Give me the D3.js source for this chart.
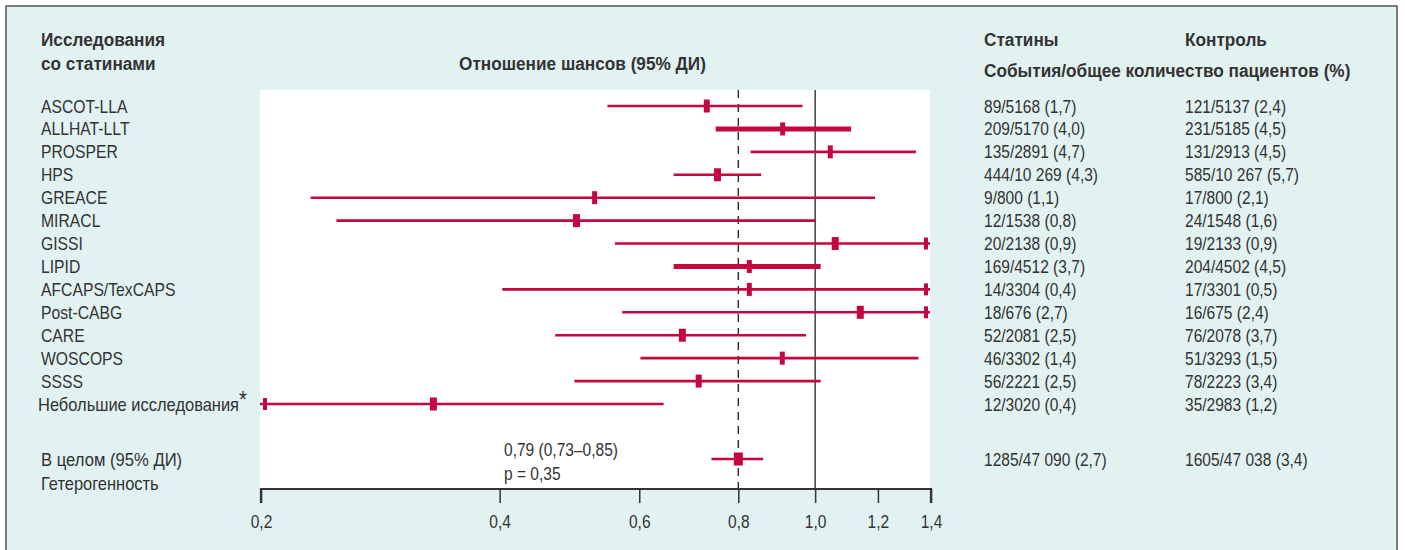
<!DOCTYPE html>
<html>
<head>
<meta charset="utf-8">
<script src="https://cdn.jsdelivr.net/npm/d3@7"></script>
<style>
  body { margin: 0; background: #fff; }
  svg text { font-family: "Liberation Sans", Arial, sans-serif; fill: #333; }
</style>
</head>
<body>
<div id="chart"></div>
<script>
// Forest plot: statin trials, odds ratio (95% CI)
const studies = ["ASCOT-LLA", "ALLHAT-LLT", "PROSPER", "HPS", "GREACE", "MIRACL", "GISSI",
  "LIPID", "AFCAPS/TexCAPS", "Post-CABG", "CARE", "WOSCOPS", "SSSS", "Небольшие исследования"];
const orPoint = [0.73, 0.91, 1.045, 0.753, 0.527, 0.50, 1.06, 0.826, 0.826, 1.14, 0.68, 0.909, 0.713, 0.33];
const orLow   = [0.547, 0.749, 0.829, 0.663, 0.231, 0.249, 0.559, 0.663, 0.403, 0.571, 0.47, 0.602, 0.497, 0.2];
const orHigh  = [0.964, 1.11, 1.34, 0.855, 1.19, 1.0, 1.4, 1.016, 1.4, 1.4, 0.974, 1.35, 1.016, 0.644];
const weight  = [2, 1, 1, 3, 1, 3, 3, 1, 1, 3, 3, 1, 2, 3];
const wide    = [false, true, false, false, false, false, false, true, false, false, false, false, false, false];
const statins = ["89/5168 (1,7)", "209/5170 (4,0)", "135/2891 (4,7)", "444/10 269 (4,3)", "9/800 (1,1)",
  "12/1538 (0,8)", "20/2138 (0,9)", "169/4512 (3,7)", "14/3304 (0,4)", "18/676 (2,7)", "52/2081 (2,5)",
  "46/3302 (1,4)", "56/2221 (2,5)", "12/3020 (0,4)"];
const control = ["121/5137 (2,4)", "231/5185 (4,5)", "131/2913 (4,5)", "585/10 267 (5,7)", "17/800 (2,1)",
  "24/1548 (1,6)", "19/2133 (0,9)", "204/4502 (4,5)", "17/3301 (0,5)", "16/675 (2,4)", "76/2078 (3,7)",
  "51/3293 (1,5)", "78/2223 (3,4)", "35/2983 (1,2)"];
const overall = { point: 0.80, low: 0.74, high: 0.86, label: "0,79 (0,73–0,85)", p: "p = 0,35",
  statins: "1285/47 090 (2,7)", control: "1605/47 038 (3,4)" };
const ticks = [0.2, 0.4, 0.6, 0.8, 1.0, 1.2, 1.4];

const W = 1405, H = 550;
const red = "#c4083f";
const svg = d3.select("#chart").append("svg").attr("width", W).attr("height", H);

// condensed look: squeeze Liberation Sans horizontally
function label(parent, x, y, str, opt = {}) {
  const sx = opt.sx || (opt.bold ? 0.93 : 0.86);
  return parent.append("text")
    .attr("transform", `translate(${x},${y}) scale(${sx},1)`)
    .style("font-size", "18.5px")
    .style("font-weight", opt.bold ? "bold" : null)
    .text(str);
}

// panel
svg.append("rect").attr("x", 6).attr("y", 6).attr("width", 1391).attr("height", 600)
  .attr("fill", "#e1f2f1").attr("stroke", "#555").attr("stroke-width", 1.5);

const plotTop = 90, plotBottom = 489;
const x = d3.scaleLog().domain([0.2, 1.4]).range([261, 931]);
svg.append("rect").attr("x", 260).attr("y", plotTop).attr("width", 670).attr("height", plotBottom - plotTop)
  .attr("fill", "#fff");

const y = d3.scalePoint().domain(studies).range([106, 404]);
const yOverall = 459;

// headers
const hdr = svg.append("g");
label(hdr, 41, 46, "Исследования", { bold: true });
label(hdr, 41, 70, "со статинами", { bold: true });
label(hdr, 459, 70, "Отношение шансов (95% ДИ)", { bold: true });
label(hdr, 984, 46, "Статины", { bold: true });
label(hdr, 1185, 46, "Контроль", { bold: true });
label(hdr, 984, 77, "События/общее количество пациентов (%)", { bold: true });

// reference lines
svg.append("line").attr("x1", x(overall.point)).attr("x2", x(overall.point))
  .attr("y1", plotTop).attr("y2", plotBottom)
  .attr("stroke", "#333").attr("stroke-width", 1.5).attr("stroke-dasharray", "8,6");
svg.append("line").attr("x1", x(1)).attr("x2", x(1))
  .attr("y1", plotTop).attr("y2", plotBottom)
  .attr("stroke", "#222").attr("stroke-width", 1.3);

// rows
const rows = studies.map((s, i) => ({ s, i, pt: orPoint[i], lo: orLow[i], hi: orHigh[i], w: weight[i], wide: wide[i] }));
const wScale = d3.scaleLinear().domain([1, 3]).range([5, 7]);

const g = svg.append("g");
g.selectAll("line.ci").data(rows).join("line").attr("class", "ci")
  .attr("x1", d => d.lo <= 0.2 ? 260 : x(d.lo))
  .attr("x2", d => d.hi >= 1.4 ? 930 : x(d.hi))
  .attr("y1", d => y(d.s)).attr("y2", d => y(d.s))
  .attr("stroke", red).attr("stroke-width", d => d.wide ? 5 : 2.6);

// truncation caps
g.selectAll("rect.capR").data(rows.filter(d => d.hi >= 1.4)).join("rect")
  .attr("x", 924).attr("y", d => y(d.s) - 6).attr("width", 4).attr("height", 12).attr("fill", red);
g.selectAll("rect.capL").data(rows.filter(d => d.lo <= 0.2)).join("rect")
  .attr("x", 263).attr("y", d => y(d.s) - 6).attr("width", 4).attr("height", 12).attr("fill", red);

g.selectAll("rect.pt").data(rows).join("rect")
  .attr("x", d => x(d.pt) - wScale(d.w) / 2).attr("y", d => y(d.s) - 6.5)
  .attr("width", d => wScale(d.w)).attr("height", 13).attr("fill", red);

// overall
svg.append("line").attr("x1", x(overall.low)).attr("x2", x(overall.high))
  .attr("y1", yOverall).attr("y2", yOverall).attr("stroke", red).attr("stroke-width", 2.6);
svg.append("rect").attr("x", x(overall.point) - 4.5).attr("y", yOverall - 6.5)
  .attr("width", 9).attr("height", 13).attr("fill", red);

// text columns
const t = svg.append("g");
rows.forEach(d => {
  const last = d.i === studies.length - 1;
  const nm = label(t, last ? 38 : 41, y(d.s) + 6.5, d.s, { sx: last ? 0.89 : 0.85 });
  if (last) nm.append("tspan").attr("dy", -3).style("font-size", "23px").text("*");
  label(t, 984, y(d.s) + 6.5, statins[d.i], { sx: 0.84 });
  label(t, 1185, y(d.s) + 6.5, control[d.i], { sx: 0.84 });
});

label(t, 41, yOverall + 6.5, "В целом (95% ДИ)", { sx: 0.9 });
label(t, 41, 483 + 6.5, "Гетерогенность", { sx: 0.89 });
label(t, 504, 449 + 6.5, overall.label, { sx: 0.84 });
label(t, 504, 473 + 6.5, overall.p, { sx: 0.84 });
label(t, 984, yOverall + 6.5, overall.statins, { sx: 0.84 });
label(t, 1185, yOverall + 6.5, overall.control, { sx: 0.84 });

// axis
const axis = svg.append("g").attr("transform", `translate(0,${plotBottom})`)
  .call(d3.axisBottom(x).tickValues(ticks).tickSize(14).tickPadding(12)
    .tickFormat(d => d3.format(".1f")(d).replace(".", ",")));
axis.select(".domain").attr("d", `M${x(0.2)},14V0H${x(1.4)}V14`).attr("stroke", "#333").attr("stroke-width", 2.2);
axis.selectAll(".tick line").attr("stroke", "#333").attr("stroke-width", 1.5);
axis.selectAll(".tick text").style("font-size", "18.5px").attr("fill", "#333")
  .attr("transform", "scale(0.84,1)")
  .style("font-family", "'Liberation Sans', Arial, sans-serif");
</script>
</body>
</html>
